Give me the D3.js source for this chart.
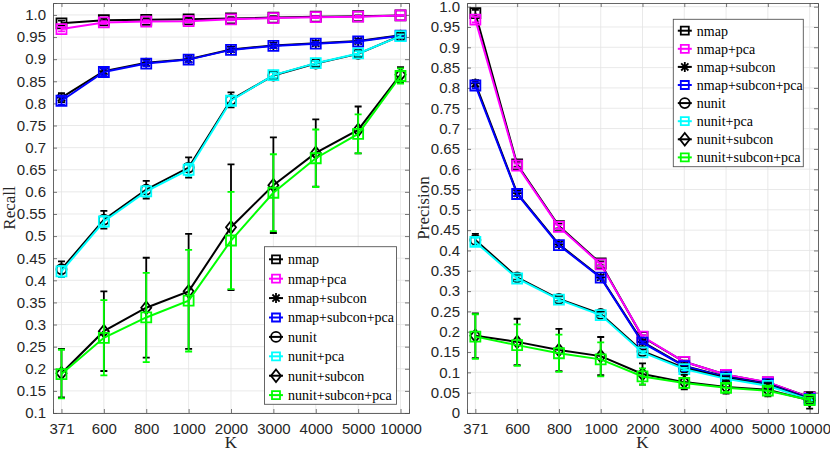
<!DOCTYPE html>
<html>
<head>
<meta charset="utf-8">
<script src="https://cdn.jsdelivr.net/npm/d3@7"></script>
<style>
  body { margin: 0; background: #fff; }
</style>
</head>
<body>
<div id="canvas"></div>
<script>
// categories on the x axis (K)
const kLabels = ["371", "600", "800", "1000", "2000", "3000", "4000", "5000", "10000"]

// series names in legend order
const seriesNames = ["nmap", "nmap+pca", "nmap+subcon", "nmap+subcon+pca", "nunit", "nunit+pca", "nunit+subcon", "nunit+subcon+pca"]

// y tick labels
const recallTicks = ["0.1", "0.15", "0.2", "0.25", "0.3", "0.35", "0.4", "0.45", "0.5", "0.55", "0.6", "0.65", "0.7", "0.75", "0.8", "0.85", "0.9", "0.95", "1.0"]
const precisionTicks = ["0", "0.05", "0.1", "0.15", "0.2", "0.25", "0.3", "0.35", "0.4", "0.45", "0.5", "0.55", "0.6", "0.65", "0.7", "0.75", "0.8", "0.85", "0.9", "0.95", "1.0"]

// recall (mean, error half-length) per series
const recNmap = [0.981, 0.988, 0.989, 0.990, 0.992, 0.994, 0.996, 0.997, 0.999]
const recNmapErr = [0.006, 0.004, 0.004, 0.004, 0.003, 0.003, 0.002, 0.002, 0.001]
const recNmapPca = [0.968, 0.983, 0.985, 0.986, 0.990, 0.993, 0.995, 0.996, 0.999]
const recNmapPcaErr = [0.005, 0.003, 0.003, 0.003, 0.002, 0.002, 0.002, 0.002, 0.001]
const recNmapSub = [0.813, 0.873, 0.892, 0.900, 0.922, 0.931, 0.936, 0.941, 0.954]
const recNmapSubErr = [0.010, 0.008, 0.007, 0.007, 0.006, 0.006, 0.005, 0.005, 0.004]
const recNmapSubPca = [0.806, 0.871, 0.890, 0.899, 0.921, 0.930, 0.935, 0.940, 0.953]
const recNmapSubPcaErr = [0.009, 0.007, 0.006, 0.006, 0.005, 0.005, 0.004, 0.004, 0.003]
const recNunit = [0.425, 0.537, 0.605, 0.655, 0.808, 0.863, 0.890, 0.912, 0.953]
const recNunitErr = [0.018, 0.020, 0.020, 0.023, 0.017, 0.008, 0.007, 0.007, 0.005]
const recNunitPca = [0.420, 0.533, 0.601, 0.650, 0.806, 0.864, 0.891, 0.913, 0.952]
const recNunitPcaErr = [0.012, 0.012, 0.012, 0.014, 0.010, 0.006, 0.005, 0.005, 0.004]
const recNunitSub = [0.190, 0.285, 0.338, 0.375, 0.520, 0.615, 0.688, 0.740, 0.865]
const recNunitSubErr = [0.055, 0.090, 0.113, 0.130, 0.142, 0.108, 0.076, 0.053, 0.017]
const recNunitSubPca = [0.188, 0.270, 0.316, 0.354, 0.490, 0.598, 0.676, 0.731, 0.862]
const recNunitSubPcaErr = [0.055, 0.085, 0.101, 0.115, 0.110, 0.087, 0.065, 0.044, 0.017]

// precision (mean, error half-length) per series
const precNmap = [0.984, 0.612, 0.460, 0.368, 0.187, 0.126, 0.094, 0.075, 0.039]
const precNmapErr = [0.008, 0.006, 0.006, 0.005, 0.004, 0.003, 0.003, 0.002, 0.002]
const precNmapPca = [0.968, 0.609, 0.458, 0.366, 0.188, 0.126, 0.094, 0.076, 0.038]
const precNmapPcaErr = [0.007, 0.005, 0.005, 0.004, 0.003, 0.003, 0.002, 0.002, 0.002]
const precNmapSub = [0.811, 0.541, 0.415, 0.334, 0.175, 0.116, 0.089, 0.072, 0.036]
const precNmapSubErr = [0.008, 0.006, 0.005, 0.005, 0.004, 0.003, 0.003, 0.002, 0.002]
const precNmapSubPca = [0.806, 0.539, 0.413, 0.333, 0.173, 0.115, 0.088, 0.071, 0.035]
const precNmapSubPcaErr = [0.007, 0.005, 0.005, 0.004, 0.003, 0.003, 0.002, 0.002, 0.002]
const precNunit = [0.426, 0.334, 0.281, 0.244, 0.152, 0.111, 0.086, 0.069, 0.034]
const precNunitErr = [0.015, 0.006, 0.006, 0.005, 0.004, 0.003, 0.003, 0.002, 0.002]
const precNunitPca = [0.421, 0.331, 0.279, 0.241, 0.149, 0.108, 0.084, 0.067, 0.033]
const precNunitPcaErr = [0.010, 0.005, 0.005, 0.004, 0.003, 0.003, 0.002, 0.002, 0.002]
const precNunitSub = [0.190, 0.175, 0.155, 0.140, 0.096, 0.076, 0.064, 0.057, 0.031]
const precNunitSubErr = [0.055, 0.057, 0.052, 0.047, 0.026, 0.018, 0.016, 0.016, 0.020]
const precNunitSubPca = [0.188, 0.167, 0.147, 0.132, 0.090, 0.074, 0.062, 0.055, 0.032]
const precNunitSubPcaErr = [0.055, 0.051, 0.046, 0.042, 0.020, 0.012, 0.010, 0.009, 0.006]

// look of each series, same order as seriesNames
const seriesColor = ["#000000", "#ff00ff", "#000000", "#0000ff", "#000000", "#00ffff", "#000000", "#00ff00"]
const seriesMarker = ["square", "square", "asterisk", "square", "circle", "square", "diamond", "square"]

const recallValues = [recNmap, recNmapPca, recNmapSub, recNmapSubPca, recNunit, recNunitPca, recNunitSub, recNunitSubPca]
const recallErrors = [recNmapErr, recNmapPcaErr, recNmapSubErr, recNmapSubPcaErr, recNunitErr, recNunitPcaErr, recNunitSubErr, recNunitSubPcaErr]
const precisionValues = [precNmap, precNmapPca, precNmapSub, precNmapSubPca, precNunit, precNunitPca, precNunitSub, precNunitSubPca]
const precisionErrors = [precNmapErr, precNmapPcaErr, precNmapSubErr, precNmapSubPcaErr, precNunitErr, precNunitPcaErr, precNunitSubErr, precNunitSubPcaErr]

const svg = d3.select("#canvas").append("svg").attr("width", 830).attr("height", 454)
svg.append("rect").attr("width", 830).attr("height", 454).attr("fill", "#fff")

// marker shapes as path strings centred on 0,0
function markerPath(type, s) {
  const h = s / 2
  if (type === "square") return `M${-h},${-h}H${h}V${h}H${-h}Z`
  if (type === "circle") return `M${-h},0A${h},${h} 0 1,0 ${h},0A${h},${h} 0 1,0 ${-h},0Z`
  if (type === "diamond") return `M0,${-h * 1.25}L${h},0L0,${h * 1.25}L${-h},0Z`
  const d = h * 0.72
  return `M${-h},0H${h}M0,${-h}V${h}M${-d},${-d}L${d},${d}M${-d},${d}L${d},${-d}`
}

function drawPanel(opt) {
  const x = d3.scalePoint().domain(kLabels).range([opt.left, opt.right]).padding(0.2)
  const y = d3.scaleLinear().domain(opt.yDomain).range([opt.bottom, opt.top])
  const g = svg.append("g")

  // grid
  g.selectAll(".gx").data(kLabels).enter().append("line")
    .attr("x1", d => x(d)).attr("x2", d => x(d)).attr("y1", opt.top).attr("y2", opt.bottom)
    .attr("stroke", "#e3e3e3").attr("stroke-width", 0.8)
  g.selectAll(".gy").data(opt.yTicks).enter().append("line")
    .attr("x1", opt.left).attr("x2", opt.right).attr("y1", d => y(+d)).attr("y2", d => y(+d))
    .attr("stroke", "#e3e3e3").attr("stroke-width", 0.8)

  // axes with inward ticks on all four sides
  const tl = 4
  g.append("g").attr("transform", `translate(0,${opt.bottom})`)
    .call(d3.axisBottom(x).tickSize(-tl).tickPadding(10))
  g.append("g").attr("transform", `translate(0,${opt.top})`)
    .call(d3.axisTop(x).tickSize(-tl).tickFormat(""))
  g.append("g").attr("transform", `translate(${opt.left},0)`)
    .call(d3.axisLeft(y).tickValues(opt.yTicks.map(Number)).tickFormat((d, i) => opt.yTicks[i]).tickSize(-tl).tickPadding(7))
  g.append("g").attr("transform", `translate(${opt.right},0)`)
    .call(d3.axisRight(y).tickValues(opt.yTicks.map(Number)).tickFormat("").tickSize(-tl))
  g.selectAll(".domain").attr("stroke", "#555").attr("stroke-width", 0.9)
  g.selectAll(".tick line").attr("stroke", "#555").attr("stroke-width", 0.8)
  g.selectAll(".tick text").attr("font-family", "Liberation Sans, Arial, sans-serif").attr("font-size", 15).attr("fill", "#262626")

  // axis labels
  g.append("text").attr("x", (opt.left + opt.right) / 2).attr("y", 448).attr("text-anchor", "middle")
    .attr("font-family", "Liberation Serif, Times New Roman, serif").attr("font-size", 17).attr("fill", "#262626").text("K")
  g.append("text").attr("transform", `translate(${opt.labelX},${(opt.top + opt.bottom) / 2}) rotate(-90)`)
    .attr("text-anchor", "middle").attr("dy", "0.35em")
    .attr("font-family", "Liberation Serif, Times New Roman, serif").attr("font-size", 17).attr("fill", "#262626").text(opt.yLabel)

  // series: error bars, line, markers
  const line = d3.line().x((d, i) => x(kLabels[i])).y(d => y(d))
  seriesNames.forEach((name, s) => {
    const col = seriesColor[s]
    const vals = opt.values[s]
    const errs = opt.errors[s]
    const sg = g.append("g").attr("stroke", col).attr("fill", "none")
    const pts = vals.map((v, i) => ({ k: kLabels[i], v: v, e: errs[i] }))
    sg.selectAll(".eb").data(pts).enter().append("path")
      .attr("d", d => `M${x(d.k)},${y(d.v - d.e)}V${y(d.v + d.e)}M${x(d.k) - 3.5},${y(d.v - d.e)}h7M${x(d.k) - 3.5},${y(d.v + d.e)}h7`)
      .attr("stroke-width", 1.8)
    sg.append("path").attr("d", line(vals)).attr("stroke-width", 2)
    sg.selectAll(".mk").data(pts).enter().append("path")
      .attr("transform", d => `translate(${x(d.k)},${y(d.v)})`)
      .attr("d", markerPath(seriesMarker[s], 10))
      .attr("stroke-width", 1.8)
  })

  // legend
  const lg = g.append("g")
  lg.append("rect").attr("x", opt.legend.x).attr("y", opt.legend.y).attr("width", opt.legend.w).attr("height", opt.legend.h)
    .attr("fill", "#fff").attr("stroke", "#555").attr("stroke-width", 0.9)
  seriesNames.forEach((name, s) => {
    const cy = opt.legend.y + opt.legend.first + s * opt.legend.step
    const lx = opt.legend.x + 4.5
    lg.append("line").attr("x1", lx).attr("x2", lx + 14).attr("y1", cy).attr("y2", cy)
      .attr("stroke", seriesColor[s]).attr("stroke-width", 2)
    lg.append("path").attr("transform", `translate(${lx + 7},${cy})`)
      .attr("d", markerPath(seriesMarker[s], seriesMarker[s] === "square" ? 8 : 10))
      .attr("fill", "none").attr("stroke", seriesColor[s]).attr("stroke-width", 1.8)
    lg.append("text").attr("x", lx + 19).attr("y", cy).attr("dy", "0.35em")
      .attr("font-family", "Liberation Serif, Times New Roman, serif").attr("font-size", 14).attr("fill", "#000").text(name)
  })
}

drawPanel({
  left: 53, right: 409, top: 3, bottom: 413,
  yDomain: [0.1, 1.027], yTicks: recallTicks, yLabel: "Recall", labelX: 9,
  values: recallValues, errors: recallErrors,
  legend: { x: 264.5, y: 246.7, w: 132, h: 157.6, first: 12.6, step: 19.4 }
})

drawPanel({
  left: 467, right: 818, top: 3, bottom: 413,
  yDomain: [0, 1.009], yTicks: precisionTicks, yLabel: "Precision", labelX: 423,
  values: precisionValues, errors: precisionErrors,
  legend: { x: 673.3, y: 19.3, w: 130, h: 147.4, first: 11.4, step: 18.1 }
})
</script>
</body>
</html>
